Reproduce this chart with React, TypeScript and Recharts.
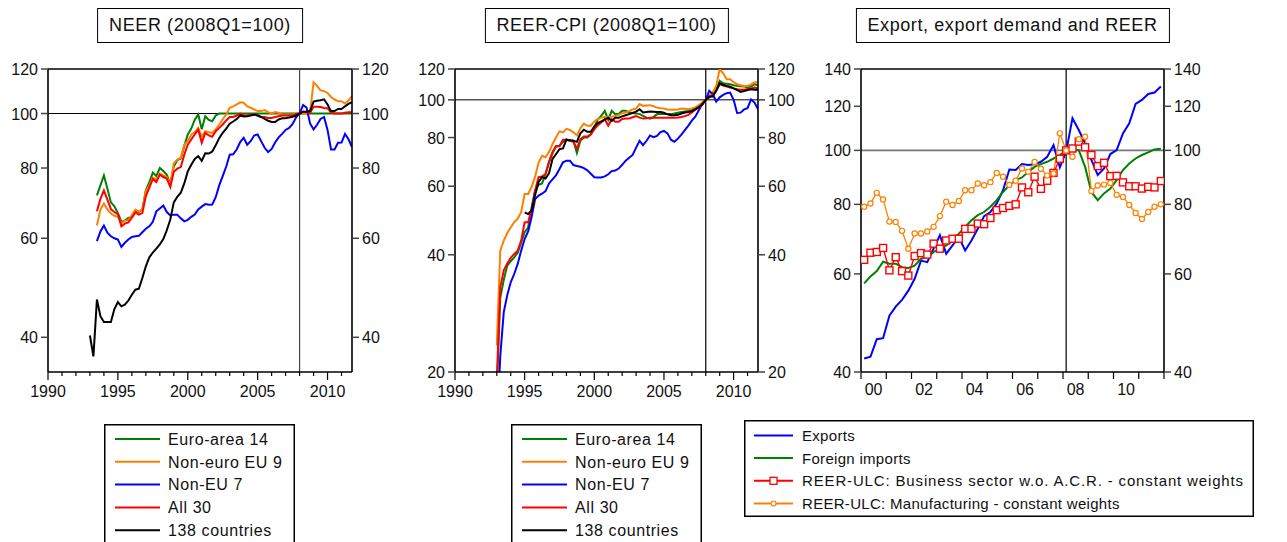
import React from "react";
import { LineChart, Line, XAxis, YAxis, ReferenceLine } from "recharts";

const FONT = "'Liberation Sans', Arial, Helvetica, sans-serif";

const GREEN = "#008000";
const ORANGE = "#FF8000";
const BLUE = "#0000FF";
const RED = "#FF0000";
const BLACK = "#000000";

// ---------- NEER / REER-CPI: quarterly 1993Q1 .. 2011Q4 ----------
const LONG_FIRST_YEAR = 1993;
const LONG_QUARTERS = 76;
const LONG_YEAR_TICKS = [
  1990, 1991, 1992, 1993, 1994, 1995, 1996, 1997, 1998, 1999, 2000, 2001,
  2002, 2003, 2004, 2005, 2006, 2007, 2008, 2009, 2010, 2011,
];
const LONG_NAMES = ["Euro-area 14", "Non-euro EU 9", "Non-EU 7", "All 30", "138 countries"];

const neerEuro14 = [
  null, null, 71.5, 74.5, 77.6, 73.5, 69.5, 68.4, 66.5, 64.2, 64.5, 65.2,
  65.5, 67, 66.8, 67.5, 73, 75.5, 78.5, 77.4, 80, 79, 77.8, 75,
  80.5, 82.6, 83.2, 87.5, 91.8, 94, 97.5, 99.6, 93.8, 98.9, 97.4, 96.9,
  99.2, 100, 100, 100, 100, 100, 100, 100, 100, 100, 100, 100,
  100, 100, 100, 100, 100, 100, 100, 100, 100, 100, 100, 100,
  100, 100, 100, 100, 100, 100, 100, 100, 100, 100, 100, 100,
  100, 100, 100, 100,
];
const neerNonEuro9 = [
  null, null, 63.2, 67.5, 69.2, 67.5, 66.4, 65.8, 65.5, 63.8, 64.5, 64.6,
  66, 67.5, 67, 67.5, 72.8, 74.5, 77, 76.3, 78.2, 77.6, 77, 74.8,
  81.5, 82.8, 83.4, 88, 89.3, 91.8, 92.6, 94.3, 91, 93, 92.6, 92.4,
  93.7, 95.6, 97.7, 99.6, 102.4, 103, 103.8, 104.7, 104.5, 103, 102.4, 101.7,
  101, 101, 101.4, 100.6, 100, 100.6, 100.3, 99.6, 99.6, 99.6, 99.7, 99.9,
  100, 100, 99.8, 100.5, 113.7, 112, 110, 109.6, 108.8, 107, 105.9, 105.2,
  105.2, 104.2, 105.5, 107.4,
];
const neerNonEu7 = [
  null, null, 59.3, 61.7, 63.2, 61.4, 60.5, 60, 59.7, 57.9, 58.9, 59.7,
  60.3, 60.5, 60.6, 61.5, 62.4, 63, 64.2, 67, 67.8, 68.6, 66.8, 65.9,
  66.1, 66.1, 65.1, 64.3, 64.7, 65.5, 66.1, 67.5, 68.3, 69, 68.8, 68.9,
  71, 74.5, 77.4, 80.5, 84.5, 84.6, 86.3, 89, 90.5, 88, 89.3, 91.4,
  91.8, 89.3, 86.9, 85.4, 86.5, 88.8, 90.7, 92, 93.5, 94.3, 95.8, 98.5,
  100, 103.5, 102.5, 96, 93.7, 95.5, 97.8, 98.6, 93.5, 86.3, 86.3, 88.7,
  88.8, 92, 90, 87.2,
];
const neerAll30 = [
  null, null, 67, 70.5, 73, 70.3, 67.6, 66.8, 66.2, 63, 63.7, 64,
  65.3, 66.7, 66.1, 66.5, 71.3, 73.8, 76.5, 75.5, 77.9, 77.1, 76.6, 74,
  78.8, 79.8, 80.3, 84.5, 88, 89.9, 91.8, 93.7, 88.7, 92.4, 91.4, 90.9,
  93, 94.3, 95.6, 97.2, 98.6, 98.6, 99.2, 100, 99.2, 99.2, 99.6, 99.6,
  99.2, 98.6, 98.6, 98.2, 98.2, 98.6, 98.9, 99.2, 99.2, 99.2, 99.2, 99.8,
  100, 100.8, 100.5, 100.3, 102.8, 102.8, 102.7, 102.3, 102.2, 100.4, 100, 100,
  100, 100.3, 100.5, 100.5,
];
const neer138 = [
  40.3, 37, 46.7, 43.6, 42.6, 42.6, 42.6, 44.9, 46.2, 45.4, 45.7, 46.5,
  47.6, 48.6, 48.8, 51, 53.5, 55.5, 56.6, 57.5, 58.5, 59.8, 62, 64.8,
  69.5, 71.1, 72.3, 75.1, 78.9, 81.1, 83, 84, 82.4, 85, 84.9, 85.6,
  87.8, 90.4, 92.4, 94, 95.9, 96.8, 97.8, 99.2, 98.8, 98.9, 99.2, 99.6,
  99.2, 98.6, 97.8, 97.1, 96.6, 96.6, 97.6, 98.1, 98.1, 98.4, 98.7, 99.2,
  100, 100.7, 100.7, 101, 105, 105.4, 105.6, 106, 103.8, 101, 101, 101.9,
  101.9, 103, 104, 104.8,
];

const reerEuro14 = [
  18, 31, 34.5, 37.5, 38.5, 39.4, 40.5, 43, 45.7, 47, 53, 58.5,
  60.5, 61, 64.5, 69.5, 73.5, 76, 76.2, 78, 79, 78.5, 78.5, 73,
  78.5, 80, 80, 81.5, 85, 89, 91, 93.7, 88.9, 93.7, 91.9, 92,
  93.7, 93.7, 92.8, 92.5, 92.3, 91.9, 91, 90, 89.5, 90.3, 91.9, 91.9,
  91.9, 91.9, 91.9, 92.3, 92.7, 93, 93.3, 93.6, 94, 95, 96.5, 98,
  100, 101.4, 102.4, 106, 111.9, 110.3, 110, 109.7, 109, 108.6, 108.3, 108.2,
  107.8, 108.2, 109.7, 109,
];
const reerNonEuro9 = [
  23.4, 41, 43.5, 45.5, 47, 48.5, 49.5, 51.5, 57.3, 57.3, 59.8, 63.5,
  69, 71.8, 71.2, 73.5, 77, 80, 83, 82.5, 84.2, 83.7, 82.5, 81,
  84.5, 86.9, 85.8, 85.8, 88, 89.3, 90, 90.5, 90.2, 90.5, 90.9, 91.5,
  92.3, 92.8, 93.5, 94.5, 95, 97.5, 96.5, 96.7, 96.9, 96.3, 95.5, 95.2,
  95, 94.5, 94.3, 94.3, 94.5, 95, 94.8, 94.6, 95, 95.6, 97, 98.5,
  100, 102.5, 104.4, 108.6, 120, 117, 113, 113, 111, 109.7, 109, 108.6,
  108.6, 109.5, 110.8, 111.2,
];
const reerNonEu7 = [
  14, 22, 28.5, 31.5, 34, 35.7, 37.9, 41, 43.9, 45.9, 50, 55.6,
  56.8, 57.4, 58.3, 61, 62.5, 64, 66.4, 69.1, 69.8, 69.8, 68, 67.6,
  67.3, 66.8, 65.9, 64.6, 63.3, 63.2, 63.2, 63.6, 64.4, 65.6, 65.8, 66.6,
  68.1, 69.8, 71, 72.2, 75.4, 78.5, 76.5, 78.5, 81, 80.2, 80.8, 82.6,
  83.2, 82, 79, 78, 79.5, 81.4, 83.6, 85.9, 88.4, 90.5, 94, 97.5,
  100, 105.5, 103.5, 99, 101.5, 103, 104, 104.4, 100, 92.5, 92.7, 94.5,
  95.2, 100.2, 98.4, 94.6,
];
const reerAll30 = [
  19, 33, 36.5, 38, 39.3, 40.2, 41, 43.5, 48.5, 48.5, 52.3, 58.5,
  63.3, 63.6, 64.5, 69, 73, 75.9, 76, 79, 79, 78.5, 78, 75,
  79.2, 80.5, 80.5, 81.5, 84, 86, 87.5, 89.2, 85.8, 89.2, 87.8, 87.8,
  89.3, 89.5, 89.5, 90.2, 90.9, 90, 89.5, 89.7, 90, 90, 90, 90,
  90, 90, 90, 90, 90.1, 90.4, 90.8, 91.5, 92.8, 94.3, 95.5, 97.2,
  100, 101.8, 102.8, 105.5, 109.7, 108.8, 108.2, 107.6, 107, 106.5, 106.2, 106.1,
  106.6, 106.9, 107.5, 107.1,
];
const reer138 = [
  null, null, null, null, null, null, null, null, 51.4, 50.9, 52, 57,
  61.5, 63.3, 62.8, 64.8, 70.5, 72.5, 74.7, 75, 79, 78.8, 78.5, 78,
  82, 83.8, 82.8, 82.8, 85.5, 87.2, 88, 89, 90, 88.3, 90, 90,
  90.7, 91.3, 91.9, 92.5, 93.3, 94.6, 92.8, 93.1, 93.3, 93.2, 93.1, 93,
  92.6, 91.8, 91.3, 91.3, 91.5, 92.2, 92.8, 93, 93.5, 94.6, 95.8, 97.3,
  100, 102, 102, 105.5, 110.3, 109.3, 108.6, 108, 107, 106, 104.8, 105.3,
  106, 106.5, 106.1, 106.1,
];

// ---------- Export panel: quarterly 2000Q1 .. 2011Q4 ----------
const SHORT_FIRST_YEAR = 2000;
const SHORT_QUARTERS = 48;
const SHORT_YEAR_TICKS = [2000, 2001, 2002, 2003, 2004, 2005, 2006, 2007, 2008, 2009, 2010, 2011, 2012];
const SHORT_YEAR_LABELS: Record<number, string> = { 2000: "00", 2002: "02", 2004: "04", 2006: "06", 2008: "08", 2010: "10" };

const exportsVol = [
  42.3, 42.6, 45.8, 46, 50.5, 52.4, 53.9, 56, 58.8, 63.4, 63, 66.6,
  70.4, 65.2, 67.5, 69.9, 66.1, 68.9, 72.3, 76.2, 77.5, 80.3, 84.8, 92.4,
  92.2, 94.5, 94.1, 94.4, 95.4, 97.4, 102.2, 93.2, 99.5, 114.2, 108.8, 103,
  96.1, 90.3, 92.8, 98.5, 100.1, 107.3, 111.8, 121.2, 123.2, 126.3, 127, 130.2,
];
const foreignImports = [
  57.7, 59.4, 60.7, 63.1, 62.6, 62.6, 61.7, 61.5, 62.1, 63.9, 64.3, 65.7,
  66.6, 67.5, 68.9, 70.9, 72.9, 74.9, 76.5, 77.5, 79.2, 81.4, 84.2, 86.6,
  88.4, 89.4, 91.5, 93.4, 94.5, 95.4, 96.7, 98.1, 99.9, 100.4, 100.1, 93.4,
  84.2, 81.4, 83.7, 85.4, 88.4, 92.2, 94.7, 96.7, 98.1, 99.2, 100.4, 100.7,
];
const ulcBusiness = [
  63.6, 65.5, 65.7, 66.8, 60.9, 64.3, 60.7, 59.6, 64.6, 65.4, 65, 68,
  66.6, 68.9, 69.4, 69.4, 72.3, 72.3, 73.9, 73.7, 75.6, 78.1, 78.8, 79.5,
  80, 85.8, 84.1, 89.7, 85.3, 88.2, 91.1, 96.6, 100, 100.8, 103.7, 101.3,
  98.1, 93.7, 95, 89.9, 90, 87.6, 86.2, 86.2, 85.4, 86, 85.8, 88.1,
];
const ulcManufacturing = [
  79.2, 80.3, 83.9, 81.6, 74.5, 74.4, 71.7, 66.6, 70.9, 70.9, 71.5, 72.9,
  76.2, 80.9, 79.8, 81.1, 84.8, 84.8, 87.2, 86.6, 87.7, 91.1, 89.7, 86.7,
  88.2, 92.8, 91.5, 95.3, 92.7, 90.1, 90.9, 107.3, 100, 97.4, 104.7, 105.8,
  84.5, 86.5, 86.8, 87.4, 83.2, 82.5, 79.8, 77.2, 75.3, 77.5, 79.2, 80,
];

type SeriesDef = {
  key: string;
  name: string;
  color: string;
  values: (number | null)[];
  width: number;
  marker?: "square" | "circle";
  tracking?: number;
};

const longTimes = Array.from({ length: LONG_QUARTERS }, (_, i) => LONG_FIRST_YEAR + i / 4);
const shortTimes = Array.from({ length: SHORT_QUARTERS }, (_, i) => SHORT_FIRST_YEAR + (i + 0.5) / 4);

function buildRows(times: number[], series: SeriesDef[]) {
  return times.map((t, i) => {
    const row: Record<string, number | null> = { t };
    series.forEach((s) => {
      row[s.key] = s.values[i] ?? null;
    });
    return row;
  });
}

const LONG_COLORS = [GREEN, ORANGE, BLUE, RED, BLACK];
const KEYS = ["euro", "noneuro", "noneu", "all", "c138"];

const neerSeries: SeriesDef[] = [neerEuro14, neerNonEuro9, neerNonEu7, neerAll30, neer138].map((v, i) => ({
  key: KEYS[i],
  name: LONG_NAMES[i],
  color: LONG_COLORS[i],
  values: v,
  width: 2,
}));
const reerSeries: SeriesDef[] = [reerEuro14, reerNonEuro9, reerNonEu7, reerAll30, reer138].map((v, i) => ({
  key: KEYS[i],
  name: LONG_NAMES[i],
  color: LONG_COLORS[i],
  values: v,
  width: 2,
}));
const exportSeries: SeriesDef[] = [
  { key: "exp", name: "Exports", color: BLUE, values: exportsVol, width: 2 },
  { key: "imp", name: "Foreign imports", color: GREEN, values: foreignImports, width: 2 },
  {
    key: "bus",
    name: "REER-ULC: Business sector w.o. A.C.R. - constant weights",
    color: RED,
    values: ulcBusiness,
    width: 1.4,
    marker: "square",
    tracking: 0.85,
  },
  {
    key: "man",
    name: "REER-ULC: Manufacturing - constant weights",
    color: ORANGE,
    values: ulcManufacturing,
    width: 1.3,
    marker: "circle",
  },
];

// ---------- ticks ----------
const LeftTick = ({ x, y, payload }: any) => (
  <g>
    <line x1={x - 7} x2={x} y1={y} y2={y} stroke="#444" strokeWidth={1.5} />
    <text x={x - 10} y={y + 6} textAnchor="end" fontSize={16} fontFamily={FONT} fill="#111">
      {payload.value}
    </text>
  </g>
);

const RightTick = ({ x, y, payload }: any) => (
  <g>
    <line x1={x} x2={x + 7} y1={y} y2={y} stroke="#444" strokeWidth={1.5} />
    <text x={x + 10} y={y + 6} textAnchor="start" fontSize={16} fontFamily={FONT} fill="#111">
      {payload.value}
    </text>
  </g>
);

const YearTick = ({ x, y, payload }: any) => {
  const major = payload.value % 5 === 0;
  return (
    <g>
      <line x1={x} x2={x} y1={y} y2={y + (major ? 8 : 4)} stroke="#000" strokeWidth={1.2} />
      {major && (
        <text x={x} y={y + 25} textAnchor="middle" fontSize={16} fontFamily={FONT} fill="#111">
          {payload.value}
        </text>
      )}
    </g>
  );
};

// labels sit in the middle of the year (half of 303px / 12 years)
const HALF_YEAR = 303 / 12 / 2;
const ShortYearTick = ({ x, y, payload }: any) => {
  const label = SHORT_YEAR_LABELS[payload.value];
  return (
    <g>
      <line x1={x} x2={x} y1={y} y2={y + 7} stroke="#000" strokeWidth={1.2} />
      {label && (
        <text x={x + HALF_YEAR} y={y + 23} textAnchor="middle" fontSize={16} fontFamily={FONT} fill="#111">
          {label}
        </text>
      )}
    </g>
  );
};

const SquareDot = (color: string) => (props: any) => {
  const { cx, cy, index } = props;
  if (cx == null || cy == null) return <g key={`sq-${index}`} />;
  return (
    <rect key={`sq-${index}`} x={cx - 3.5} y={cy - 3.5} width={7} height={7} fill="#fff" stroke={color} strokeWidth={1.4} />
  );
};

const CircleDot = (color: string) => (props: any) => {
  const { cx, cy, index } = props;
  if (cx == null || cy == null) return <g key={`ci-${index}`} />;
  return <circle key={`ci-${index}`} cx={cx} cy={cy} r={2.6} fill="#fff" stroke={color} strokeWidth={1.2} />;
};

type PanelProps = {
  left: number;
  width: number;
  rightW: number;
  rows: Record<string, number | null>[];
  series: SeriesDef[];
  xDomain: [number, number];
  xTicks: number[];
  xTick: any;
  yDomain: [number, number];
  yTicks: number[];
  vLine: number;
  hStroke: string;
  hWidth: number;
  vStroke: string;
};

function Panel(p: PanelProps) {
  const axisLine = { stroke: "#000", strokeWidth: 1.6 };
  return (
    <div style={{ position: "absolute", left: p.left, top: 60 }}>
      <LineChart width={p.width} height={350} data={p.rows} margin={{ top: 9, right: 0, bottom: 0, left: 0 }}>
        <XAxis
          dataKey="t"
          type="number"
          domain={p.xDomain}
          ticks={p.xTicks}
          interval={0}
          allowDataOverflow
          tick={p.xTick}
          tickLine={false}
          tickSize={0}
          tickMargin={0}
          height={38}
          axisLine={axisLine}
        />
        <YAxis
          yAxisId="l"
          type="number"
          scale="log"
          domain={p.yDomain}
          allowDataOverflow
          ticks={p.yTicks}
          interval={0}
          tick={LeftTick}
          tickLine={false}
          tickSize={0}
          tickMargin={0}
          width={48}
          axisLine={axisLine}
        />
        <YAxis
          yAxisId="r"
          orientation="right"
          type="number"
          scale="log"
          domain={p.yDomain}
          allowDataOverflow
          ticks={p.yTicks}
          interval={0}
          tick={RightTick}
          tickLine={false}
          tickSize={0}
          tickMargin={0}
          width={p.rightW}
          axisLine={axisLine}
        />
        <ReferenceLine yAxisId="l" y={p.yDomain[1]} stroke="#000" strokeWidth={1.6} ifOverflow="visible" />
        <ReferenceLine yAxisId="l" y={100} stroke={p.hStroke} strokeWidth={p.hWidth} />
        <ReferenceLine yAxisId="l" x={p.vLine} stroke={p.vStroke} strokeWidth={1.2} />
        {p.series.map((s) => (
          <Line
            key={s.key}
            yAxisId="l"
            type="linear"
            dataKey={s.key}
            name={s.name}
            stroke={s.color}
            strokeWidth={s.width}
            dot={s.marker === "square" ? SquareDot(s.color) : s.marker === "circle" ? CircleDot(s.color) : false}
            activeDot={false}
            isAnimationActive={false}
          />
        ))}
      </LineChart>
    </div>
  );
}

function Title({ center, text }: { center: number; text: string }) {
  return (
    <div
      style={{
        position: "absolute",
        left: center,
        top: 8,
        transform: "translateX(-50%)",
        height: 35,
        boxSizing: "border-box",
        border: "1px solid #000",
        padding: "0 11px",
        lineHeight: "33px",
        fontSize: 18,
        letterSpacing: 0.6,
        whiteSpace: "nowrap",
        fontFamily: FONT,
        color: "#111",
        background: "#fff",
      }}
    >
      {text}
    </div>
  );
}

type LegendProps = {
  left: number;
  top: number;
  width: number;
  height: number;
  items: SeriesDef[];
  rowStart: number;
  rowGap: number;
  lineX1: number;
  lineX2: number;
  textX: number;
  fontSize: number;
  spacing: number;
};

function LegendBox(p: LegendProps) {
  return (
    <svg style={{ position: "absolute", left: p.left, top: p.top }} width={p.width} height={p.height}>
      <rect x={0.75} y={0.75} width={p.width - 1.5} height={p.height - 1.5} fill="#fff" stroke="#000" strokeWidth={1.5} />
      {p.items.map((it, i) => {
        const cy = p.rowStart + i * p.rowGap;
        const mx = (p.lineX1 + p.lineX2) / 2;
        return (
          <g key={it.key}>
            <line x1={p.lineX1} x2={p.lineX2} y1={cy} y2={cy} stroke={it.color} strokeWidth={2} />
            {it.marker === "square" && (
              <rect x={mx - 3.5} y={cy - 3.5} width={7} height={7} fill="#fff" stroke={it.color} strokeWidth={1.3} />
            )}
            {it.marker === "circle" && <circle cx={mx} cy={cy} r={2.5} fill="#fff" stroke={it.color} strokeWidth={1.2} />}
            <text
              x={p.textX}
              y={cy + p.fontSize * 0.36}
              fontSize={p.fontSize}
              letterSpacing={it.tracking ?? p.spacing}
              fontFamily={FONT}
              fill="#111"
            >
              {it.name}
            </text>
          </g>
        );
      })}
    </svg>
  );
}

export default function App() {
  const neerRows = buildRows(longTimes, neerSeries);
  const reerRows = buildRows(longTimes, reerSeries);
  const expRows = buildRows(shortTimes, exportSeries);

  return (
    <div
      style={{
        position: "absolute",
        left: 0,
        top: 0,
        width: 1287,
        height: 542,
        overflow: "hidden",
        background: "#fff",
        fontFamily: FONT,
      }}
    >
      <Title center={200} text="NEER (2008Q1=100)" />
      <Title center={606.5} text="REER-CPI (2008Q1=100)" />
      <Title center={1012.5} text="Export, export demand and REER" />

      <Panel
        left={0}
        width={400}
        rightW={48}
        rows={neerRows}
        series={neerSeries}
        xDomain={[1990, 2011.75]}
        xTicks={LONG_YEAR_TICKS}
        xTick={YearTick}
        yDomain={[34.7, 120]}
        yTicks={[40, 60, 80, 100, 120]}
        vLine={2008}
        hStroke="#000"
        hWidth={1}
        vStroke="#444"
      />
      <Panel
        left={407}
        width={400}
        rightW={49}
        rows={reerRows}
        series={reerSeries}
        xDomain={[1990, 2011.75]}
        xTicks={LONG_YEAR_TICKS}
        xTick={YearTick}
        yDomain={[20, 120]}
        yTicks={[20, 40, 60, 80, 100, 120]}
        vLine={2008}
        hStroke="#000"
        hWidth={1}
        vStroke="#000"
      />
      <Panel
        left={813}
        width={420}
        rightW={69}
        rows={expRows}
        series={exportSeries}
        xDomain={[2000, 2012]}
        xTicks={SHORT_YEAR_TICKS}
        xTick={ShortYearTick}
        yDomain={[40, 140]}
        yTicks={[40, 60, 80, 100, 120, 140]}
        vLine={2008.125}
        hStroke="#777"
        hWidth={1.6}
        vStroke="#000"
      />

      <LegendBox
        left={104}
        top={424}
        width={191}
        height={130}
        items={neerSeries}
        rowStart={15}
        rowGap={22.8}
        lineX1={11}
        lineX2={56}
        textX={64}
        fontSize={16}
        spacing={0.6}
      />
      <LegendBox
        left={511}
        top={424}
        width={191}
        height={130}
        items={reerSeries}
        rowStart={15}
        rowGap={22.8}
        lineX1={11}
        lineX2={56}
        textX={64}
        fontSize={16}
        spacing={0.6}
      />
      <LegendBox
        left={744}
        top={420}
        width={510}
        height={97}
        items={exportSeries}
        rowStart={15.4}
        rowGap={22.7}
        lineX1={10}
        lineX2={49}
        textX={58}
        fontSize={15}
        spacing={0.3}
      />
    </div>
  );
}
